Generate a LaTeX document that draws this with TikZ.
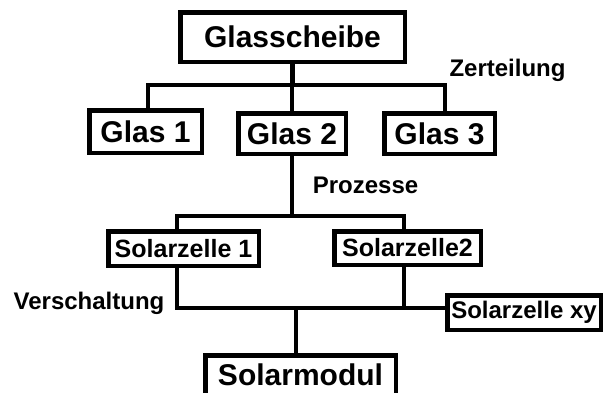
\documentclass[tikz,border=0pt]{standalone}
\usepackage{fontspec}
\setmainfont{Liberation Sans}
\begin{document}
\begin{tikzpicture}[x=1pt,y=-1pt,
  box/.style={draw=black,line width=4.5pt,fill=white,inner sep=0pt,font=\bfseries\fontsize{30}{32}\selectfont},
  smallbox/.style={box,font=\bfseries\fontsize{25}{27}\selectfont},
  lbl/.style={inner sep=0pt,font=\bfseries\fontsize{24}{26}\selectfont},
  conn/.style={line width=4.5pt,line cap=rect}]
\useasboundingbox (0,0) rectangle (605,392);
\clip (0,0) rectangle (605,392);
% nodes
\node[box,minimum width=224.5pt,minimum height=49.5pt] (gs) at (292.5,37) {Glasscheibe};
\node[box,minimum width=112.5pt,minimum height=42.5pt] (g1) at (145.5,131.5) {Glas 1};
\node[box,minimum width=107.5pt,minimum height=40.5pt] (g2) at (292,133.5) {Glas 2};
\node[box,minimum width=110.5pt,minimum height=40.5pt] (g3) at (439.5,133.5) {Glas 3};
\node[smallbox,minimum width=150.5pt,minimum height=34.5pt] (s1) at (183.5,248.5) {Solarzelle 1};
\node[smallbox,minimum width=146.5pt,minimum height=33.5pt] (s2) at (407.5,248) {Solarzelle2};
\node[smallbox,font=\bfseries\fontsize{24}{26}\selectfont,minimum width=153.5pt,minimum height=34.5pt] (sxy) at (524,312.5) {Solarzelle xy};
\node[box,minimum width=190.5pt,minimum height=43.5pt] (sm) at (300.5,377) {\raisebox{4.5pt}{Solarmodul}};
% labels
\node[lbl] (lz) at (507.5,70) {Zerteilung};
\node[lbl] (lp) at (365.5,185) {Prozesse};
\node[lbl] (lv) at (89,303) {Verschaltung};
% bar coordinates
\coordinate (b1L) at (148,85);
\coordinate (b1R) at (445,85);
\coordinate (b2L) at (177,216);
\coordinate (b2R) at (404,216);
\coordinate (b3L) at (177,308);
\coordinate (b3R) at (404,308);
\coordinate (b3M) at (296,308);
% connectors
\draw[conn] (gs.south) -- (gs.south |- b1L);
\draw[conn] (b1L |- g1.north) -- (b1L) -- (b1R) -- (b1R |- g3.north);
\draw[conn] (g2.north |- b1L) -- (g2.north);
\draw[conn] (g2.south) -- (g2.south |- b2L);
\draw[conn] (b2L |- s1.north) -- (b2L) -- (b2R) -- (b2R |- s2.north);
\draw[conn] (b3L |- s1.south) -- (b3L) -- (b3L -| sxy.west);
\draw[conn] (b3R |- s2.south) -- (b3R);
\draw[conn] (b3M) -- (b3M |- sm.north);
\end{tikzpicture}
\end{document}
